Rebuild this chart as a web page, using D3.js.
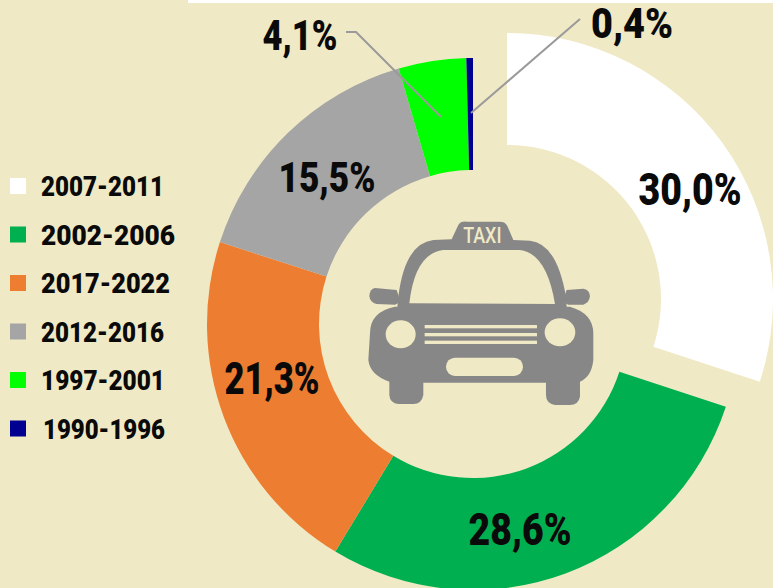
<!DOCTYPE html>
<html><head><meta charset="utf-8">
<script src="https://cdn.jsdelivr.net/npm/d3@7/dist/d3.min.js"></script>
<style>html,body{margin:0;padding:0;background:#f0e9c5;overflow:hidden}svg{display:block}text{font-family:Roboto,sans-serif;font-weight:900;fill:#0a0a0a}</style>
</head><body><svg id="c" width="773" height="588"></svg>
<script>
const periods = ["2007-2011","2002-2006","2017-2022","2012-2016","1997-2001","1990-1996"];
const shares = [30.0,28.6,21.3,15.5,4.1,0.4];
const shareLabels = ["30,0%","28,6%","21,3%","15,5%","4,1%","0,4%"];
const colours = ["#ffffff","#00b050","#ed7d31","#a5a5a5","#00ff00","#000090"];

const W=773,H=588,cx=473,cy=324,R=266,r=154,bg="#f0e9c5",ink="#878787";
const labelPos=[[690,205,103],[520,545,103],[272,394,95],[327,192,97],[300,50,75],[632,38,82]];
const labelSize=[44,44,44,43,42,42];
const explode=[[34,-25],[0,0],[0,0],[0,0],[0,0],[0,0]];
const svg=d3.select("#c");
svg.append("rect").attr("width",W).attr("height",H).attr("fill",bg);
svg.append("rect").attr("x",188).attr("width",W-188).attr("height",3).attr("fill","#fff");

const pie=d3.pie().sort(null).value(d=>d)(shares);
const arc=d3.arc().innerRadius(r).outerRadius(R);
svg.append("g").attr("transform",`translate(${cx},${cy})`).selectAll("path").data(pie).join("path")
  .attr("d",arc).attr("fill",(d,i)=>colours[i])
  .attr("transform",(d,i)=>`translate(${explode[i]})`);

// legend
const legendY=d3.scalePoint().domain(periods).range([186.5,429]);
const lg=svg.append("g").selectAll("g").data(periods).join("g").attr("transform",d=>`translate(0,${legendY(d)})`);
lg.append("rect").attr("x",10).attr("y",-8.5).attr("width",16).attr("height",16).attr("fill",(d,i)=>colours[i]);
const legW=[123,134,129,123,124,122];
lg.append("text").attr("x",(d,i)=>i==5?43:41).attr("y",9.5).attr("font-size",27)
  .attr("textLength",(d,i)=>legW[i]).attr("lengthAdjust","spacingAndGlyphs").text(d=>d);

// leaders
const line=d3.line();
[[[346,32],[356,32],[441,117]],[[580,19],[471,113]]].forEach(p=>
  svg.append("path").attr("d",line(p)).attr("fill","none").attr("stroke","#9a9a9a").attr("stroke-width",2));

// value labels
svg.append("g").selectAll("text").data(shareLabels).join("text")
  .attr("x",(d,i)=>labelPos[i][0]).attr("y",(d,i)=>labelPos[i][1]).attr("text-anchor","middle")
  .attr("font-size",(d,i)=>labelSize[i]).attr("textLength",(d,i)=>labelPos[i][2]).attr("lengthAdjust","spacingAndGlyphs").text(d=>d);

// taxi icon
const car=svg.append("g").attr("transform","translate(340,200) scale(0.3333)");
car.append("path").attr("fill",ink).attr("fill-rule","evenodd").attr("d",
 "M175 290Q195 130 280 120L335 118L355 75Q362 63 380 65L480 65Q496 65 502 78L520 120L570 122Q650 130 678 290L680 322L172 322Z"+
 "M208 310Q225 160 310 150L540 150Q620 160 645 312Z");
car.append("path").attr("fill",ink).attr("d",
 "M90 400Q90 335 165 320L690 320Q760 340 760 400L760 480Q755 530 720 545L720 590Q715 615 690 615L645 615Q618 610 618 585L618 548L250 548L250 585Q245 612 220 612L175 612Q150 610 148 585L148 545Q90 525 85 480Z");
car.append("path").attr("fill",ink).attr("d",
 "M105 264L170 270L182 305L165 314L110 312Q90 308 88 288Q90 266 105 264Z");
car.append("path").attr("fill",ink).attr("d",
 "M730 266L680 270L668 305L685 314L730 314Q748 308 750 288Q748 268 730 266Z");
[[182,403,45,42],[660,397,46,42]].forEach(e=>car.append("ellipse").attr("cx",e[0]).attr("cy",e[1]).attr("rx",e[2]).attr("ry",e[3]).attr("fill",bg));
[380,404,427].forEach(y=>car.append("rect").attr("x",254).attr("y",y-5).attr("width",337).attr("height",10).attr("fill",bg));
car.append("rect").attr("x",318).attr("y",473).attr("width",231).attr("height",55).attr("rx",27).attr("fill",bg);
car.append("text").attr("x",427).attr("y",128).attr("text-anchor","middle").attr("font-size",66)
  .attr("textLength",115).attr("lengthAdjust","spacingAndGlyphs").style("fill",bg).style("font-weight",500).text("TAXI");
</script></body></html>
